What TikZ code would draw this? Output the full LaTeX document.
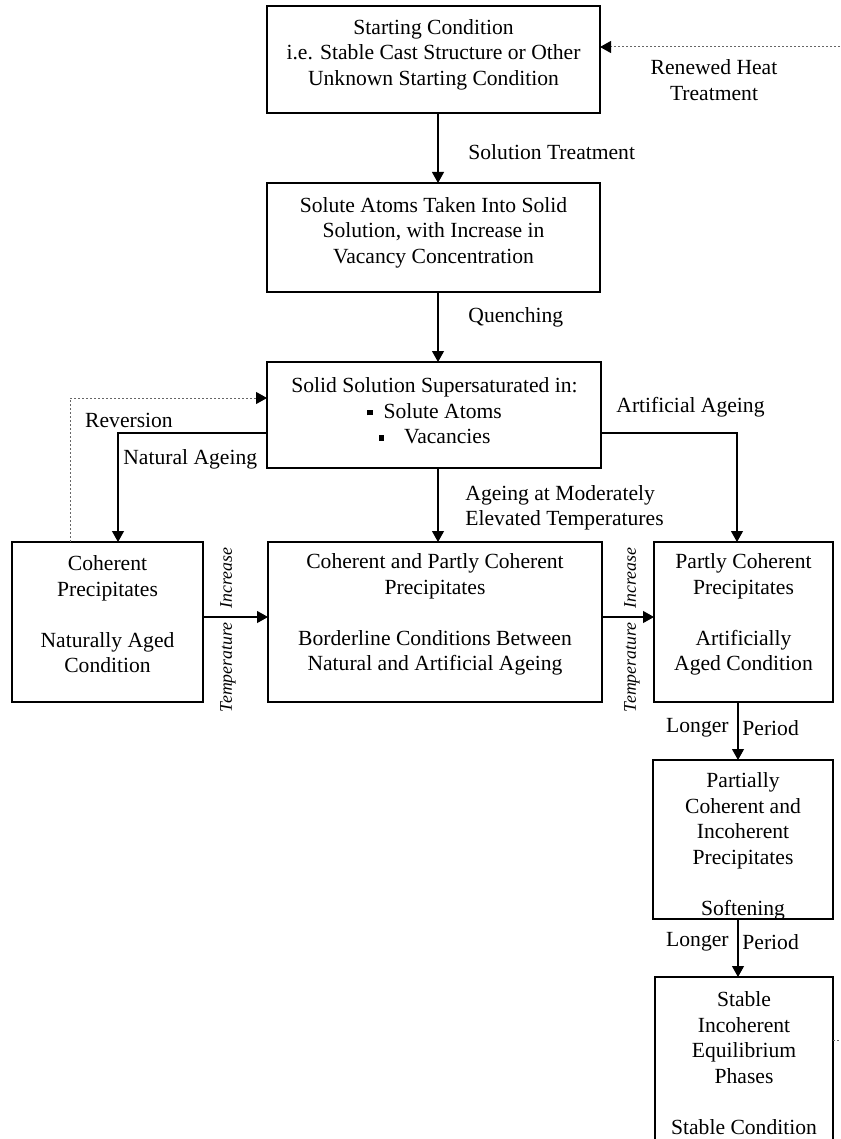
\documentclass[tikz,border=0pt]{standalone}
\usepackage{fontspec}
\setmainfont{Liberation Serif}
\usetikzlibrary{arrows.meta,calc}
\newcommand{\sqbul}{\raisebox{0.3ex}{\rule{2.7pt}{2.7pt}}}
\begin{document}
\begin{tikzpicture}[x=0.5pt,y=-0.5pt,
  box/.style={draw,line width=0.8pt,inner sep=0pt,outer sep=0pt,anchor=north west},
  txt/.style={align=center,font=\fontsize{10.8}{12.75}\selectfont,inner sep=0pt},
  lab/.style={font=\fontsize{10.8}{12.75}\selectfont,inner sep=0pt},
  rot/.style={rotate=90,font=\fontsize{8.9}{10}\selectfont\itshape,inner sep=0pt},
  arr/.style={line width=0.55pt,-{Triangle[length=5.5pt,width=6pt]}},
  dotarr/.style={line width=0.5pt,black!60,dash pattern=on 1pt off 1pt,-{Triangle[length=5.5pt,width=6pt,color=black]}}]

\useasboundingbox (0,0) rectangle (840,1139);

% boxes
\node[box,minimum width=166.5pt,minimum height=53.5pt] (b1) at (267,6) {};
\node[box,minimum width=166.5pt,minimum height=54.5pt] (b2) at (267,183) {};
\node[box,minimum width=167pt,minimum height=53pt] (b3) at (267,362) {};
\node[box,minimum width=95.5pt,minimum height=80pt] (b4) at (12,542) {};
\node[box,minimum width=167pt,minimum height=80pt] (b5) at (268,542) {};
\node[box,minimum width=89.5pt,minimum height=80pt] (b6) at (654,542) {};
\node[box,minimum width=90pt,minimum height=79.5pt] (b7) at (653,760) {};
\node[box,minimum width=89pt,minimum height=83pt] (b8) at (655,977) {};

% box texts
\node[txt] (t1) at (433.5,54.5) {Starting Condition\\i.e. Stable Cast Structure or Other\\Unknown Starting Condition};
\node[txt] (t2) at (433.5,232.5) {Solute Atoms Taken Into Solid\\Solution, with Increase in\\Vacancy Concentration};
\node[txt] (t3) at (434.5,411) {Solid Solution Supersaturated in:\\\sqbul\hspace{5.5pt}Solute Atoms\\\sqbul\hspace{10pt}Vacancies};
\node[txt] (t4) at (107.5,614.5) {Coherent\\Precipitates\\[12.75pt]Naturally Aged\\Condition};
\node[txt] (t5) at (435,614.5) {Coherent and Partly Coherent\\Precipitates\\[12.75pt]Borderline Conditions Between\\Natural and Artificial Ageing};
\node[txt] (t6) at (743.5,614.5) {Partly Coherent\\Precipitates\\[12.75pt]Artificially\\Aged Condition};
\node[txt] (t7) at (743,846.5) {Partially\\Coherent and\\Incoherent\\Precipitates\\[12.75pt]Softening};
\node[txt] (t8) at (744,1063) {Stable\\Incoherent\\Equilibrium\\Phases\\[12.75pt]Stable Condition};

% helper coordinates
\coordinate (ax) at (438,0);
\coordinate (na) at (118,433);
\coordinate (aa) at (737,433);
\coordinate (rv) at (70,398);
\coordinate (ti) at (0,617);
\coordinate (lp) at (738,0);
\coordinate (rh1) at (846,1040);
\coordinate (rh2) at (846,47);

% connectors
\draw[arr] (b1.south -| ax) -- (b2.north -| ax);
\draw[arr] (b2.south -| ax) -- (b3.north -| ax);
\draw[arr] (b3.south -| ax) -- (b5.north -| ax);
\draw[arr] (b3.west |- na) -| (b4.north -| na);
\draw[arr] (b3.east |- aa) -| (b6.north -| aa);
\draw[dotarr] (b4.north -| rv) |- (b3.west |- rv);
\draw[arr] (b4.east |- ti) -- (b5.west |- ti);
\draw[arr] (b5.east |- ti) -- (b6.west |- ti);
\draw[arr] (b6.south -| lp) -- (b7.north -| lp);
\draw[arr] (b7.south -| lp) -- (b8.north -| lp);
\draw[dotarr] (b8.east |- rh1) -- (rh1) -- (rh2) -- (b1.east |- rh2);

% labels
\node[lab,anchor=west] (l1) at (468,152) {Solution Treatment};
\node[lab,anchor=west] (l2) at (468,317) {Quenching};
\node[txt] (l3) at (714,80) {Renewed Heat\\Treatment};
\node[lab] (l4) at (129,420) {Reversion};
\node[lab,anchor=west] (l5) at (123,459) {Natural Ageing};
\node[lab,anchor=west] (l6) at (616,407) {Artificial Ageing};
\node[txt,align=left,anchor=west] (l7) at (465,508) {Ageing at Moderately\\Elevated Temperatures};
\node[rot] (r1) at (228,630) {Temperature\hspace{7pt}Increase};
\node[rot] (r2) at (632,630) {Temperature\hspace{7pt}Increase};
\node[lab,anchor=east] (p1a) at (729,728) {Longer};
\node[lab,anchor=west] (p1b) at (742,728) {Period};
\node[lab,anchor=east] (p2a) at (729,942) {Longer};
\node[lab,anchor=west] (p2b) at (742,942) {Period};
\end{tikzpicture}
\end{document}
